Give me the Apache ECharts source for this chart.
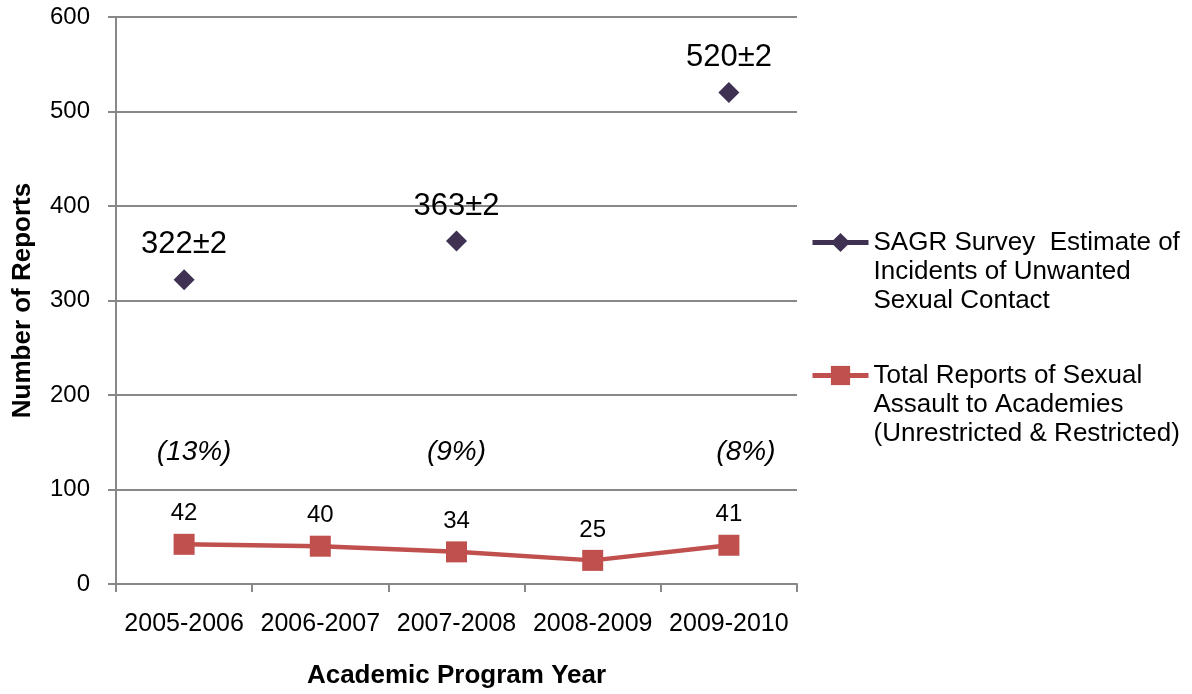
<!DOCTYPE html>
<html>
<head>
<meta charset="utf-8">
<script src="https://cdn.jsdelivr.net/npm/echarts@6/dist/echarts.min.js"></script>
<style>html,body{margin:0;padding:0;background:#fff}#c{width:1192px;height:694px}</style>
</head>
<body>
<div id="c"></div>
<script>
const categories = ['2005-2006', '2006-2007', '2007-2008', '2008-2009', '2009-2010'];
const surveyEstimates = [322, null, 363, null, 520];
const surveyMargins = [2, null, 2, null, 2];
const totalReports = [42, 40, 34, 25, 41];
const reportShare = ['(13%)', null, '(9%)', null, '(8%)'];
const shareLabelLevel = 139.5;
const yTicks = { min: 0, max: 600, interval: 100 };
const surveyName = 'SAGR Survey  Estimate of\nIncidents of Unwanted\nSexual Contact';
const reportsName = 'Total Reports of Sexual\nAssault to Academies\n(Unrestricted & Restricted)';

const FONT = "'Liberation Sans', Arial, sans-serif";
const GRAY = '#888888';
const shareOffsets = [10, 0, 0, 0, 17];

const chart = echarts.init(document.getElementById('c'), null, { renderer: 'canvas' });
chart.setOption({
  animation: false,
  backgroundColor: '#ffffff',
  textStyle: { fontFamily: FONT },
  grid: { left: 116, top: 17, width: 681, height: 569, containLabel: false },
  legend: {
    orient: 'vertical',
    left: 810,
    top: 170,
    padding: 0,
    itemGap: -12,
    itemWidth: 56,
    itemHeight: 24,
    data: [surveyName, reportsName],
    formatter: name => '\n\n' + name,
    lineStyle: { width: 5 },
    textStyle: { fontFamily: FONT, fontSize: 26, color: '#000', lineHeight: 29 }
  },
  xAxis: {
    type: 'category',
    data: categories,
    boundaryGap: true,
    name: 'Academic Program Year',
    nameLocation: 'middle',
    nameGap: 79,
    nameTextStyle: { fontFamily: FONT, fontSize: 26, fontWeight: 'bold', color: '#000' },
    axisLine: { show: true, lineStyle: { color: GRAY, width: 2 } },
    axisTick: { show: true, length: 8, interval: 0, alignWithLabel: false, lineStyle: { color: GRAY, width: 2 } },
    axisLabel: { fontFamily: FONT, fontSize: 25, color: '#000', margin: 28, interval: 0 },
    splitLine: { show: false }
  },
  yAxis: {
    type: 'value',
    min: yTicks.min,
    max: yTicks.max,
    interval: yTicks.interval,
    name: 'Number of Reports',
    nameLocation: 'middle',
    nameGap: 80,
    nameRotate: 90,
    nameTextStyle: { fontFamily: FONT, fontSize: 26, fontWeight: 'bold', color: '#000' },
    axisLine: { show: true, lineStyle: { color: GRAY, width: 2 } },
    axisTick: { show: true, length: 8, lineStyle: { color: GRAY, width: 2 } },
    axisLabel: { fontFamily: FONT, fontSize: 24, color: '#000', margin: 26 },
    splitLine: { show: true, lineStyle: { color: GRAY, width: 2 } }
  },
  series: [
    {
      name: surveyName,
      type: 'line',
      data: surveyEstimates,
      connectNulls: false,
      symbol: 'diamond',
      symbolSize: 21,
      itemStyle: { color: '#3F3151' },
      lineStyle: { color: '#3F3151', width: 4 },
      label: {
        show: true,
        position: 'top',
        distance: 9,
        fontFamily: FONT,
        fontSize: 31,
        color: '#000',
        formatter: p => p.value == null ? '' : p.value + '±' + surveyMargins[p.dataIndex]
      },
      z: 3
    },
    {
      name: reportsName,
      type: 'line',
      data: totalReports,
      symbol: 'rect',
      symbolSize: 21,
      itemStyle: { color: '#C0504D' },
      lineStyle: { color: '#C0504D', width: 4.5 },
      label: {
        show: true,
        position: 'top',
        distance: 8,
        fontFamily: FONT,
        fontSize: 24,
        color: '#000'
      },
      z: 3
    },
    {
      name: 'share',
      type: 'scatter',
      symbolSize: 0,
      silent: true,
      itemStyle: { opacity: 1 },
      data: reportShare.map((t, i) => t == null ? null : { value: shareLabelLevel, label: { offset: [shareOffsets[i], 0] } }),
      label: {
        show: true,
        position: 'inside',
        fontFamily: FONT,
        fontSize: 28,
        fontStyle: 'italic',
        color: '#000',
        formatter: p => reportShare[p.dataIndex] || ''
      }
    }
  ]
});
</script>
</body>
</html>
